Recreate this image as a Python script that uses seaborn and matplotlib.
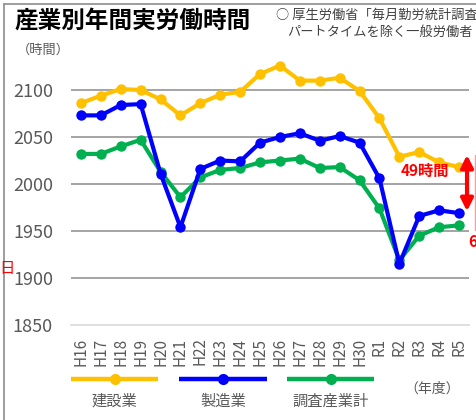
import numpy as np
import pandas as pd
import matplotlib
matplotlib.use('Agg')
import matplotlib.pyplot as plt
from matplotlib.lines import Line2D
import seaborn as sns

# Data (annual working hours)
years = ['H16', 'H17', 'H18', 'H19', 'H20', 'H21', 'H22', 'H23', 'H24', 'H25',
         'H26', 'H27', 'H28', 'H29', 'H30', 'R1', 'R2', 'R3', 'R4', 'R5']
construction = [2086, 2094, 2101, 2100, 2090, 2073, 2086, 2095, 2098, 2117,
                2126, 2110, 2110, 2113, 2099, 2070, 2029, 2034, 2023, 2018]
manufacturing = [2073, 2073, 2084, 2085, 2011, 1954, 2016, 2025, 2024, 2044,
                 2050, 2054, 2046, 2051, 2044, 2006, 1915, 1966, 1972, 1969]
all_industries = [2032, 2032, 2040, 2047, 2013, 1986, 2007, 2015, 2017, 2023,
                  2025, 2027, 2017, 2018, 2004, 1974, 1919, 1945, 1954, 1956]
series_names = ['建設業', '製造業', '調査産業計']
series_colors = ['#FFC000', '#0000FF', '#00B050']
y_ticks = [1850, 1900, 1950, 2000, 2050, 2100]


def main():
    sns.set_style('white')
    plt.rcParams['font.family'] = ['Noto Sans CJK JP', 'DejaVu Sans']

    df = pd.DataFrame({
        'pos': np.arange(len(years)),
        '建設業': construction,
        '製造業': manufacturing,
        '調査産業計': all_industries,
    }).melt(id_vars='pos', var_name='industry', value_name='hours')

    fig = plt.figure(figsize=(4.76, 4.2), dpi=100)
    ax = fig.add_axes([71 / 476, 1 - 325 / 420, 398 / 476, 282 / 420])

    # gridlines first so the series sit on top
    for t in y_ticks[1:]:
        ax.axhline(t, color='#8C8C8C', lw=1.1, zorder=0)

    sns.lineplot(data=df, x='pos', y='hours', hue='industry',
                 hue_order=['調査産業計', '建設業', '製造業'],
                 palette=dict(zip(series_names, series_colors)),
                 marker='o', markersize=7.5, markeredgewidth=0,
                 linewidth=3.0, legend=False, ax=ax)

    ax.set_xlim(-0.5, len(years) - 0.5)
    ax.set_ylim(1850, 2150)
    ax.set_yticks(y_ticks)
    ax.set_xticks(np.arange(len(years)))
    ax.set_xticklabels(years, rotation=90)
    ax.set_xticks(np.arange(-0.5, len(years), 1), minor=True)
    ax.set_xlabel('')
    ax.set_ylabel('')

    for side in ['top', 'right', 'left']:
        ax.spines[side].set_visible(False)
    ax.spines['bottom'].set_color('#D9D9D9')
    ax.spines['bottom'].set_linewidth(1.2)

    ax.tick_params(axis='y', length=0, pad=13, labelsize=13, labelcolor='#595959')
    ax.tick_params(axis='x', which='major', length=0, pad=9, labelsize=11,
                   labelcolor='#595959')
    ax.tick_params(axis='x', which='minor', length=5, width=1.1, color='#D9D9D9')

    # red gap annotation at the right end
    ax.annotate('', xy=(19.4, 2031), xytext=(19.4, 1971),
                arrowprops=dict(arrowstyle='<|-|>', color='#FF0000', lw=3,
                                mutation_scale=18, shrinkA=0, shrinkB=0),
                annotation_clip=False)
    ax.plot([19.82, 19.82], [2031, 1951], color='#FF9999', lw=1, clip_on=False)
    ax.text(17.3, 2014, '49時間', color='#FF0000', fontsize=11, fontweight='bold',
            ha='center', va='center')
    ax.text(19.45, 1938, '62時間', color='#FF0000', fontsize=11, fontweight='bold',
            ha='left', va='center', clip_on=False)

    # titles and notes
    fig.text(15 / 476, 1 - 21 / 420, '産業別年間実労働時間', fontsize=17,
             fontweight='bold', color='#000000', va='center', ha='left')
    fig.text(276 / 476, 1 - 15 / 420, '○ 厚生労働省「毎月勤労統計調査」',
             fontsize=9.5, color='#404040', va='center', ha='left')
    fig.text(287 / 476, 1 - 32 / 420, 'パートタイムを除く一般労働者',
             fontsize=9.5, color='#404040', va='center', ha='left')
    fig.text(17 / 476, 1 - 50 / 420, '（時間）', fontsize=9.5, color='#595959',
             va='center', ha='left')
    fig.text(-1 / 476, 1 - 269 / 420, '日', fontsize=11, color='#FF0000',
             va='center', ha='left')

    # legend: short line with a dot, label underneath
    legend_x = [(71, 158), (179, 267), (287, 374)]
    for (x0, x1), name, color in zip(legend_x, series_names, series_colors):
        y = 1 - 379 / 420
        fig.add_artist(Line2D([x0 / 476, x1 / 476], [y, y], transform=fig.transFigure,
                              color=color, lw=3.2, solid_capstyle='butt'))
        xc = (x0 + x1) / 2 / 476
        fig.add_artist(Line2D([xc], [y], transform=fig.transFigure, marker='o',
                              markersize=8, markeredgewidth=0, color=color))
        fig.text(xc, 1 - 401 / 420, name, fontsize=11, color='#595959',
                 ha='center', va='center')
    fig.text(432 / 476, 1 - 389 / 420, '（年度）', fontsize=10, color='#595959',
             ha='center', va='center')

    # outer frame (only left and top visible in the reference crop)
    fig.add_artist(Line2D([3.5 / 476, 3.5 / 476], [0, 1 - 3.5 / 420],
                          transform=fig.transFigure, color='#8C8C8C', lw=1.2))
    fig.add_artist(Line2D([3.5 / 476, 1], [1 - 3.5 / 420, 1 - 3.5 / 420],
                          transform=fig.transFigure, color='#8C8C8C', lw=1.2))

    fig.savefig('out.png', dpi=100)
    plt.close(fig)


if __name__ == "__main__":
    main()
